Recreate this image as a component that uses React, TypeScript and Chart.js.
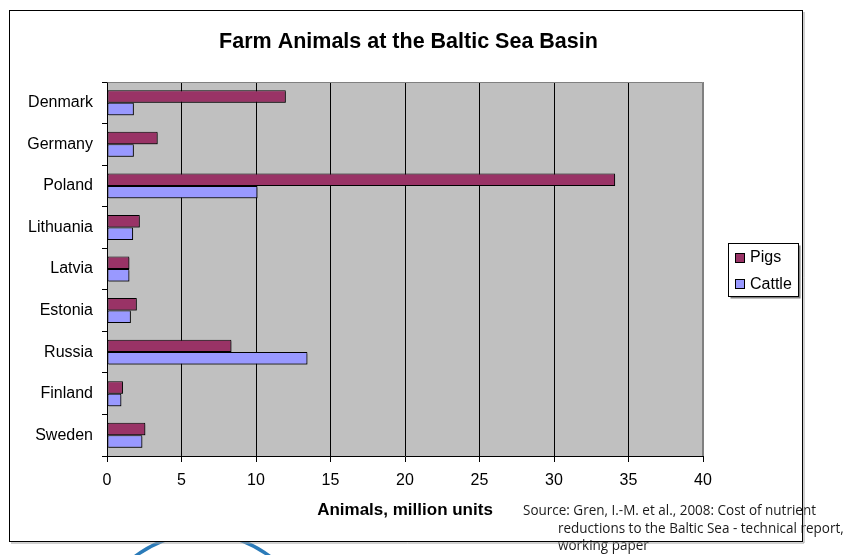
import React, { useEffect, useRef } from "react";
import { Chart, registerables } from "chart.js";

Chart.register(...registerables);

const countries = ["Denmark", "Germany", "Poland", "Lithuania", "Latvia", "Estonia", "Russia", "Finland", "Sweden"];
const pigs = [12.0, 3.4, 34.1, 2.2, 1.5, 2.0, 8.35, 1.07, 2.57];
const cattle = [1.8, 1.8, 10.1, 1.75, 1.5, 1.6, 13.45, 0.96, 2.37];
const seriesNames = ["Pigs", "Cattle"];
const seriesColors = ["#993366", "#9999FF"];
const titleText = "Farm Animals at the Baltic Sea Basin";
const axisTitle = "Animals, million units";
const sourceLines = [
  "Source: Gren, I.-M. et al., 2008: Cost of nutrient",
  "reductions to the Baltic Sea - technical report,",
  "working paper",
];

const FONT = "'Liberation Sans', Arial, sans-serif";

const decorPlugin = {
  id: "decor",
  beforeDraw(chart: any) {
    const ctx = chart.ctx;
    const W = chart.width, H = chart.height;
    ctx.save();
    ctx.fillStyle = "#fff";
    ctx.fillRect(0, 0, W, H);
    // logo arc below frame
    ctx.strokeStyle = "#2b7bb9";
    ctx.lineWidth = 3.5;
    ctx.beginPath();
    ctx.arc(202.5, 644, 110.5, 0, Math.PI * 2);
    ctx.stroke();
    // frame
    ctx.fillStyle = "#fff";
    ctx.fillRect(9.5, 10.5, 793, 531);
    // source text
    ctx.fillStyle = "#1a1a1a";
    ctx.font = "15px 'Open Sans', 'Noto Sans', sans-serif";
    ctx.textBaseline = "middle";
    const w0 = ctx.measureText(sourceLines[0]).width;
    const sx = 293 / w0;
    const pos = [
      [523, 511],
      [558, 529],
      [558, 546],
    ];
    sourceLines.forEach((t, i) => {
      ctx.save();
      ctx.translate(pos[i][0], pos[i][1]);
      ctx.scale(sx, 1);
      ctx.fillText(t, 0, 0);
      ctx.restore();
    });
    // frame border + shadow
    ctx.strokeStyle = "#a0a0a0";
    ctx.lineWidth = 1;
    ctx.beginPath();
    ctx.moveTo(804, 12);
    ctx.lineTo(804, 543);
    ctx.lineTo(11, 543);
    ctx.stroke();
    ctx.strokeStyle = "#000";
    ctx.strokeRect(9.5, 10.5, 793, 531);
    // title
    ctx.fillStyle = "#000";
    ctx.font = "bold 21.5px " + FONT;
    ctx.textAlign = "center";
    ctx.textBaseline = "middle";
    ctx.fillText(titleText, 408.5, 42);
    ctx.textAlign = "left";
    // plot background
    const a = chart.chartArea;
    ctx.fillStyle = "#C0C0C0";
    ctx.fillRect(a.left, a.top, a.right - a.left, a.bottom - a.top);
    ctx.restore();
  },
  beforeDatasetsDraw(chart: any) {
    const ctx = chart.ctx;
    ctx.save();
    ctx.shadowColor = "rgba(0,0,0,0.45)";
    ctx.shadowOffsetX = 1.5;
    ctx.shadowOffsetY = 1.5;
    ctx.shadowBlur = 0;
  },
  afterDatasetsDraw(chart: any) {
    chart.ctx.restore();
  },
  afterDraw(chart: any) {
    const ctx = chart.ctx;
    const a = chart.chartArea;
    ctx.save();
    // plot top/right border
    ctx.strokeStyle = "#808080";
    ctx.lineWidth = 1;
    ctx.beginPath();
    ctx.moveTo(Math.round(a.left) + 0.5, Math.round(a.top) + 0.5);
    ctx.lineTo(Math.round(a.right) - 0.5, Math.round(a.top) + 0.5);
    ctx.lineTo(Math.round(a.right) - 0.5, Math.round(a.bottom));
    ctx.stroke();
    // legend
    const lx = 728.5, ly = 243.5, lw = 70, lh = 53;
    ctx.fillStyle = "#808080";
    ctx.fillRect(lx + 2, ly + 2, lw, lh);
    ctx.fillStyle = "#fff";
    ctx.fillRect(lx, ly, lw, lh);
    ctx.strokeStyle = "#000";
    ctx.strokeRect(lx, ly, lw, lh);
    ctx.font = "16px " + FONT;
    ctx.textBaseline = "middle";
    chart.data.datasets.forEach((ds: any, i: number) => {
      const cy = 257 + i * 26.6;
      ctx.fillStyle = ds.backgroundColor;
      ctx.fillRect(735.5, Math.round(cy - 4.5) + 0.5, 9, 9);
      ctx.strokeStyle = "#000";
      ctx.strokeRect(735.5, Math.round(cy - 4.5) + 0.5, 9, 9);
      ctx.fillStyle = "#000";
      ctx.fillText(ds.label, 750, cy + 1);
    });
    ctx.restore();
  },
};

export default function App() {
  const ref = useRef<HTMLCanvasElement | null>(null);
  useEffect(() => {
    if (!ref.current) return;
    const chart = new Chart(ref.current, {
      type: "bar",
      data: {
        labels: countries,
        datasets: [
          { label: seriesNames[0], data: pigs, backgroundColor: seriesColors[0] },
          { label: seriesNames[1], data: cattle, backgroundColor: seriesColors[1] },
        ].map((d) => ({
          ...d,
          borderColor: "#000",
          borderWidth: 1,
          borderSkipped: false,
          categoryPercentage: 0.6,
          barPercentage: 1,
        })),
      },
      options: {
        indexAxis: "y",
        responsive: false,
        animation: false,
        devicePixelRatio: 1,
        layout: { padding: { left: 0, right: 149, top: 82, bottom: 0 } },
        plugins: {
          legend: { display: false },
          tooltip: { enabled: false },
          title: { display: false },
        },
        scales: {
          x: {
            type: "linear",
            min: 0,
            max: 40,
            ticks: { stepSize: 5, color: "#000", font: { family: FONT, size: 16 }, padding: 9 },
            grid: {
              color: (c: any) => (c.tick && c.tick.value === 40 ? "#808080" : "#000"),
              tickColor: "#000",
              tickLength: 6,
              lineWidth: 1,
            },
            border: { display: true, color: "#000", width: 1 },
            title: {
              display: true,
              text: axisTitle,
              color: "#000",
              font: { family: FONT, size: 17, weight: "bold" },
              padding: { top: 0, bottom: 34 },
            },
            afterFit: (s: any) => {
              s.height = 99;
            },
          },
          y: {
            ticks: { color: "#000", font: { family: FONT, size: 16 }, padding: 9 },
            grid: { drawOnChartArea: false, color: "#000", tickLength: 5, offset: true },
            border: { display: true, color: "#000", width: 1 },
            afterFit: (s: any) => {
              s.width = 107;
            },
          },
        },
      },
      plugins: [decorPlugin],
    } as any);
    return () => chart.destroy();
  }, []);
  return (
    <div style={{ position: "absolute", left: 0, top: 0, width: 852, height: 555 }}>
      <canvas ref={ref} width={852} height={555} style={{ display: "block" }} />
    </div>
  );
}
